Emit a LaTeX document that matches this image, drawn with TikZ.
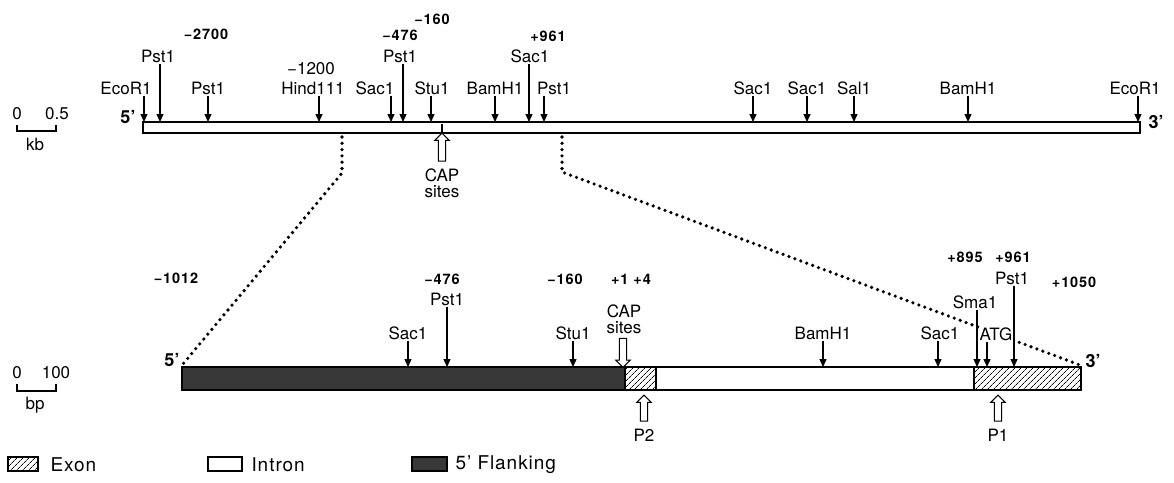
\documentclass[tikz,border=0pt]{standalone}
\usepackage{fontspec}
\setmainfont{TeX Gyre Heros}
\newfontfamily\numfont[LetterSpace=6]{TeX Gyre Heros}
\newfontfamily\legfont[LetterSpace=5]{TeX Gyre Heros}
\usetikzlibrary{arrows.meta,patterns.meta,shapes.arrows}

\tikzset{
  site/.style={-{Triangle[length=8pt,width=7pt]},line width=1.3pt},
  enzyme/.style={font=\fontsize{17}{19}\selectfont,inner sep=1pt},
  posn/.style={font=\numfont\bfseries\fontsize{14.5}{16}\selectfont,inner sep=1pt},
  endlab/.style={font=\bfseries\fontsize{18}{20}\selectfont,inner sep=0pt},
  hollow/.style={single arrow,draw,line width=1pt,fill=white,
    single arrow head extend=3.5pt,inner sep=3.2pt,minimum height=#1},
  exon/.style={pattern={Lines[angle=45,distance=4pt,line width=0.7pt]}},
  flank/.style={fill=black!78},
  zoomline/.style={line width=3.6pt,dash pattern=on 0pt off 6.3pt,line cap=round},
}

\begin{document}
\begin{tikzpicture}[x=1pt,y=-1pt]
  \useasboundingbox (0,0) rectangle (1174,482);

  % genomic map
  \draw[line width=1.5pt] (143,122) rectangle (1140,133);
  \draw[line width=1.2pt] (442,124) -- (442,133);
  \node[endlab] (t5) at (128,117) {5’};
  \node[endlab] (t3) at (1156,122) {3’};

  \foreach \ax/\lx/\name [count=\i] in {144/126/EcoR1, 208/208/Pst1, 319/313/Hind111,
      391/375/Sac1, 431/432/Stu1, 495/495/BamH1, 544/554/Pst1, 753/753/Sac1,
      807/807/Sac1, 854/854/Sal1, 968/968/BamH1, 1138/1135/EcoR1}{
    \node[enzyme] (ts\i) at (\lx,88) {\name};
    \coordinate (tb\i) at (\ax,122);
    \draw[site] (tb\i |- ts\i.south) -- (tb\i);
  }
  \foreach \ax/\lx/\name [count=\i] in {160/158/Pst1, 403/400/Pst1, 529/530/Sac1}{
    \node[enzyme] (tl\i) at (\lx,56) {\name};
    \coordinate (tc\i) at (\ax,122);
    \draw[site] (tc\i |- tl\i.south) -- (tc\i);
  }
  \node[posn] (tn1) at (206,34) {−2700};
  \node[enzyme] (tn2) at (311,69) {−1200};
  \node[posn] (tn3) at (400,35) {−476};
  \node[posn] (tn4) at (432,19) {−160};
  \node[posn] (tn5) at (548,36) {+961};

  \node[hollow=28pt,shape border rotate=90] (tcap) at (442,149) {};
  \node[enzyme,align=center,inner sep=0pt] (tcaplab) at (442,183)
    {CAP\\[-3pt]sites};

  % scale bars
  \node[enzyme] (kb0) at (17,114) {0};
  \node[enzyme] (kb5) at (57,114) {0.5};
  \draw[line width=1.2pt] (17,125) -- (17,131) -- (56,131) -- (56,125);
  \node[enzyme] (kb) at (35,144) {kb};
  \node[enzyme] (bp0) at (17,373) {0};
  \node[enzyme] (bp1) at (56,373) {100};
  \draw[line width=1.2pt] (17,384) -- (17,391) -- (56,391) -- (56,384);
  \node[enzyme] (bp) at (35,405) {bp};

  % zoom lines
  \draw[zoomline] (342,137) -- (342,173) -- (183,364);
  \draw[zoomline] (562,137) -- (562,172) -- (1080,365);

  % gene
  \draw[line width=1.5pt,flank] (182,367) rectangle (625,390);
  \draw[line width=1.5pt,exon] (625,367) rectangle (656,390);
  \draw[line width=1.5pt,fill=white] (656,367) rectangle (974,390);
  \draw[line width=1.5pt,exon] (974,367) rectangle (1081,390);
  \node[endlab] (b5) at (172,360) {5’};
  \node[endlab] (b3) at (1093,361) {3’};

  \foreach \ax/\lx/\name [count=\i] in {408/408/Sac1, 573/573/Stu1,
      823/823/BamH1, 938/940/Sac1}{
    \node[enzyme] (bs\i) at (\lx,333) {\name};
    \coordinate (bb\i) at (\ax,367);
    \draw[site] (bb\i |- bs\i.south) -- (bb\i);
  }
  \node[enzyme,fill=white] (atg) at (996,334) {ATG};
  \coordinate (batg) at (987,367);
  \draw[site] (batg |- atg.south) -- (batg);
  \foreach \ax/\lx/\ly/\name [count=\i] in {447/447/299/Pst1, 977/975/302/Sma1,
      1014/1012/278/Pst1}{
    \node[enzyme] (bl\i) at (\lx,\ly) {\name};
    \coordinate (bc\i) at (\ax,367);
    \draw[site] (bc\i |- bl\i.south) -- (bc\i);
  }
  \node[posn] (bn1) at (176,278) {−1012};
  \node[posn] (bn2) at (442,279) {−476};
  \node[posn] (bn3) at (565,279) {−160};
  \node[posn] (bn4) at (631,279) {+1\hspace{5pt}+4};
  \node[posn] (bn5) at (965,257) {+895};
  \node[posn] (bn6) at (1013,257) {+961};
  \node[posn] (bn7) at (1074,282) {+1050};

  \node[enzyme,align=center,inner sep=0pt] (bcaplab) at (624,319)
    {CAP\\[-3pt]sites};
  \node[hollow=29pt,shape border rotate=270] (bcap) at (623,351) {};
  \node[hollow=26pt,shape border rotate=90] (p2) at (644,410) {};
  \node[enzyme] (p2lab) at (644,435) {P2};
  \node[hollow=26pt,shape border rotate=90] (p1) at (998,410) {};
  \node[enzyme] (p1lab) at (998,435) {P1};

  % legend
  \draw[line width=1.2pt,exon] (8,457) rectangle (38,471);
  \node[anchor=west,font=\legfont\fontsize{19}{21}\selectfont] (lexon) at (47,465) {Exon};
  \draw[line width=1.2pt] (208,457) rectangle (242,471);
  \node[anchor=west,font=\legfont\fontsize{19}{21}\selectfont] (lintron) at (248,465) {Intron};
  \draw[line width=1.2pt,flank] (412,457) rectangle (447,471);
  \node[anchor=west,font=\legfont\fontsize{19}{21}\selectfont] (lflank) at (452,465) {5’ Flanking};
\end{tikzpicture}
\end{document}
